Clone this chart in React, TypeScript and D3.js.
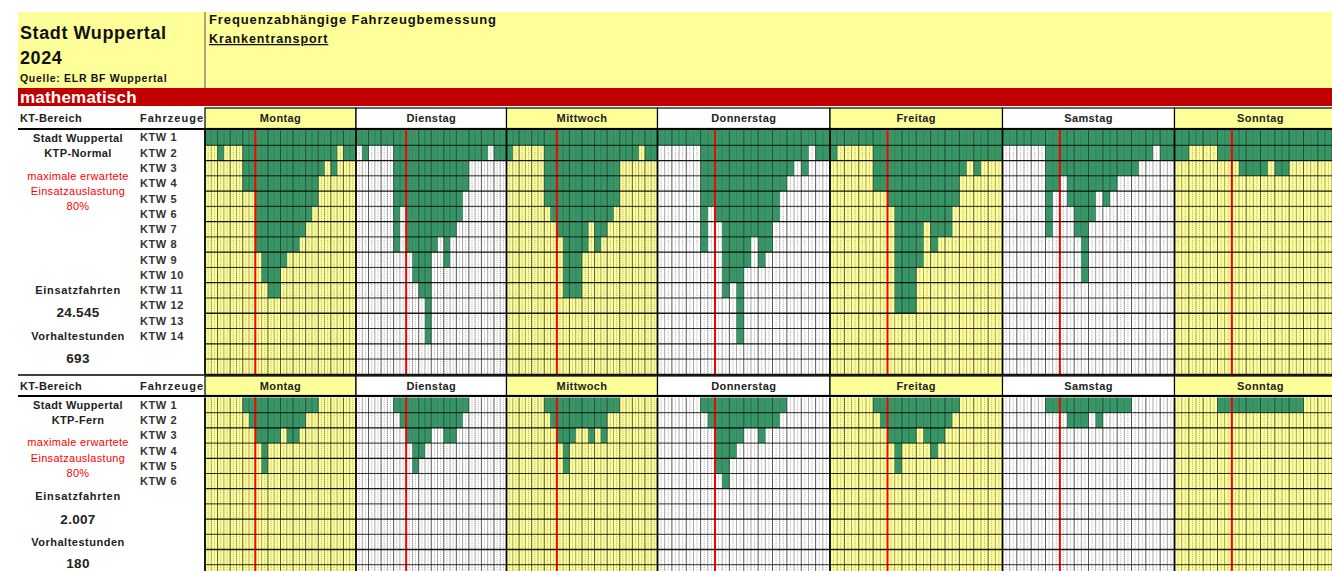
import React from 'react';
import * as d3 from 'd3';

// ---------- data ----------
const days = ['Montag', 'Dienstag', 'Mittwoch', 'Donnerstag', 'Freitag', 'Samstag', 'Sonntag'];
const normalVehicles = ['KTW 1','KTW 2','KTW 3','KTW 4','KTW 5','KTW 6','KTW 7','KTW 8','KTW 9','KTW 10','KTW 11','KTW 12','KTW 13','KTW 14'];
const fernVehicles = ['KTW 1','KTW 2','KTW 3','KTW 4','KTW 5','KTW 6'];

// vehicles needed per hour (0..23), KTP-Normal
const normalMontag     = [1,1,2,1,1,1,4,4,8,10,11,11,9,8,8,7,6,5,3,2,3,1,2,2];
const normalDienstag   = [1,2,1,1,1,1,8,5,8,10,11,14,8,7,9,7,6,4,2,2,2,1,2,2];
const normalMittwoch   = [2,1,1,1,1,1,5,6,7,11,11,11,8,6,8,7,6,5,2,2,2,1,2,2];
const normalDonnerstag = [1,1,1,1,1,1,8,5,6,11,10,14,9,7,9,8,6,4,3,2,3,1,2,2];
const normalFreitag    = [2,1,1,1,1,1,4,4,5,12,12,12,9,6,8,7,7,5,3,2,3,2,2,2];
const normalSamstag    = [1,1,1,1,1,1,7,4,3,5,7,10,6,4,5,4,3,3,3,2,2,1,2,2];
const normalSonntag    = [2,2,1,1,1,1,2,2,2,3,3,3,3,2,3,3,2,2,2,2,2,2,2,2];

// vehicles needed per hour (0..23), KTP-Fern
const fernMontag     = [0,0,0,0,0,0,1,2,3,5,3,3,2,3,3,2,1,1,0,0,0,0,0,0];
const fernDienstag   = [0,0,0,0,0,0,1,2,3,5,4,3,2,2,3,3,2,1,0,0,0,0,0,0];
const fernMittwoch   = [0,0,0,0,0,0,1,2,3,5,3,2,2,3,2,3,1,1,0,0,0,0,0,0];
const fernDonnerstag = [0,0,0,0,0,0,1,2,5,6,4,3,2,2,3,2,2,1,0,0,0,0,0,0];
const fernFreitag    = [0,0,0,0,0,0,1,2,3,5,3,3,2,3,4,3,2,1,0,0,0,0,0,0];
const fernSamstag    = [0,0,0,0,0,0,1,1,1,2,2,2,1,2,1,1,1,1,0,0,0,0,0,0];
const fernSonntag    = [0,0,0,0,0,0,1,1,1,1,1,1,1,1,1,1,1,1,0,0,0,0,0,0];

const normalData = [normalMontag, normalDienstag, normalMittwoch, normalDonnerstag, normalFreitag, normalSamstag, normalSonntag];
const fernData = [fernMontag, fernDienstag, fernMittwoch, fernDonnerstag, fernFreitag, fernSamstag, fernSonntag];

const shiftMarkHour = 8;

// ---------- layout ----------
const W = 1332, H = 571;
const dayEdges = [205, 356, 506.5, 657.5, 830, 1002.5, 1174.5, 1346.5];
const YELLOW = '#ffff99';
const GREEN = '#339966';
const FONT = '"Liberation Sans", Arial, sans-serif';

const sections = [
  { headerTop: 108, headerBottom: 128.5, gridTop: 130, rowH: 15.27, rows: 16, data: normalData, vehicles: normalVehicles,
    name: 'KTP-Normal', fahrten: '24.545', stunden: '693',
    labelY: { a: 138, b: 153, r1: 176, r2: 191, r3: 206, f: 290, fv: 312, s: 336, sv: 358 } },
  { headerTop: 376, headerBottom: 395.5, gridTop: 397.5, rowH: 15.2, rows: 12, data: fernData, vehicles: fernVehicles,
    name: 'KTP-Fern', fahrten: '2.007', stunden: '180',
    labelY: { a: 405, b: 420, r1: 442, r2: 458, r3: 473, f: 496, fv: 519, s: 542, sv: 563 } },
];

function Section({ s }: { s: any }) {
  const yScale = d3.scaleLinear().domain([0, s.rows]).range([s.gridTop, s.gridTop + s.rows * s.rowH]);
  const gridBottom = yScale(s.rows);
  const leftX = 78;
  const txt = (y: number, t: string, opts: any = {}) => (
    <text x={opts.x ?? leftX} y={y} dy="0.35em" textAnchor={opts.anchor ?? 'middle'} fontFamily={FONT}
      fontSize={opts.size ?? 11} fontWeight={opts.weight ?? 'bold'} fill={opts.fill ?? '#222'}
      letterSpacing={opts.ls ?? 0.4}>{t}</text>
  );
  return (
    <g>
      {/* header row */}
      {txt((s.headerTop + s.headerBottom) / 2, 'KT-Bereich', { x: 20, anchor: 'start' })}
      {txt((s.headerTop + s.headerBottom) / 2, 'Fahrzeuge', { x: 140, anchor: 'start', ls: 1 })}
      {days.map((d, i) => {
        const x0 = dayEdges[i], x1 = dayEdges[i + 1];
        return (
          <g key={d}>
            <rect x={x0} y={s.headerTop} width={x1 - x0} height={s.headerBottom - s.headerTop}
              fill={i % 2 === 0 ? YELLOW : '#ffffff'} stroke="#000" strokeWidth={1.2} />
            <text x={(x0 + x1) / 2} y={(s.headerTop + s.headerBottom) / 2} dy="0.35em" textAnchor="middle"
              fontFamily={FONT} fontSize={11} fontWeight="bold" fill="#222" letterSpacing={0.4}>{d}</text>
          </g>
        );
      })}
      <line x1={18} x2={W} y1={s.headerBottom + 0.5} y2={s.headerBottom + 0.5} stroke="#000" strokeWidth={2} />

      {/* day grids */}
      {days.map((d, i) => {
        const x = d3.scaleLinear().domain([0, 24]).range([dayEdges[i], dayEdges[i + 1]]);
        const counts: number[] = s.data[i];
        return (
          <g key={d}>
            <rect x={x(0)} y={s.gridTop} width={x(24) - x(0)} height={gridBottom - s.gridTop}
              fill={i % 2 === 0 ? YELLOW : '#ffffff'} />
            {counts.map((c, h) => c > 0 && (
              <rect key={h} x={x(h)} y={yScale(0)} width={x(h + 1) - x(h)} height={yScale(c) - yScale(0)} fill={GREEN} />
            ))}
            {d3.range(24).map((h) => (
              <line key={'q' + h} x1={x(h + 0.5)} x2={x(h + 0.5)} y1={s.gridTop} y2={gridBottom}
                stroke="#666" strokeWidth={0.8} strokeDasharray="1,1.2" opacity={0.7} />
            ))}
            {d3.range(1, 24).map((h) => (
              <line key={'h' + h} x1={x(h)} x2={x(h)} y1={s.gridTop} y2={gridBottom}
                stroke="#222" strokeWidth={h % 2 === 0 ? 1 : 0.8} opacity={h % 2 === 0 ? 0.75 : 0.5} />
            ))}
            <line x1={x(shiftMarkHour)} x2={x(shiftMarkHour)} y1={s.gridTop} y2={gridBottom} stroke="#ff0000" strokeWidth={2} />
            <line x1={x(0)} x2={x(0)} y1={s.gridTop} y2={gridBottom} stroke="#000" strokeWidth={1.8} />
          </g>
        );
      })}
      {d3.range(1, s.rows + 1).map((r) => (
        <line key={r} x1={dayEdges[0]} x2={W} y1={yScale(r)} y2={yScale(r)} stroke="#000" strokeWidth={r % 2 === 0 ? 1.3 : 0.9} opacity={0.9} />
      ))}

      {/* left labels */}
      {txt(s.labelY.a, 'Stadt Wuppertal')}
      {txt(s.labelY.b, s.name)}
      {txt(s.labelY.r1, 'maximale erwartete', { weight: 'normal', fill: '#ff0000', ls: 0.3 })}
      {txt(s.labelY.r2, 'Einsatzauslastung', { weight: 'normal', fill: '#ff0000', ls: 0.3 })}
      {txt(s.labelY.r3, '80%', { weight: 'normal', fill: '#ff0000', ls: 0.3 })}
      {txt(s.labelY.f, 'Einsatzfahrten', { ls: 0.7 })}
      {txt(s.labelY.fv, s.fahrten, { size: 13.5, ls: 0.3 })}
      {txt(s.labelY.s, 'Vorhaltestunden', { ls: 0.5 })}
      {txt(s.labelY.sv, s.stunden, { size: 13.5, ls: 0.3 })}
      {s.vehicles.map((v: string, i: number) => (
        <text key={v} x={140} y={(yScale(i) + yScale(i + 1)) / 2} dy="0.35em" fontFamily={FONT} fontSize={11}
          fontWeight="bold" fill="#333" letterSpacing={0.6}>{v}</text>
      ))}
    </g>
  );
}

export default function App() {
  return (
    <svg width={W} height={H} style={{ position: 'absolute', left: 0, top: 0, background: '#fff' }}>
      {/* title block */}
      <rect x={18} y={12} width={W - 18} height={76} fill={YELLOW} />
      <line x1={205} x2={205} y1={12} y2={88} stroke="#555" strokeWidth={1} />
      <text x={20} y={39} fontFamily={FONT} fontSize={18} fontWeight="bold" fill="#111" letterSpacing={0.6}>Stadt Wuppertal</text>
      <text x={20} y={64} fontFamily={FONT} fontSize={18} fontWeight="bold" fill="#111" letterSpacing={0.6}>2024</text>
      <text x={20} y={82} fontFamily={FONT} fontSize={10.5} fontWeight="bold" fill="#111" letterSpacing={0.7}>Quelle: ELR BF Wuppertal</text>
      <text x={209} y={24} fontFamily={FONT} fontSize={13} fontWeight="bold" fill="#111" letterSpacing={0.9}>Frequenzabhängige Fahrzeugbemessung</text>
      <text x={209} y={43} fontFamily={FONT} fontSize={12.5} fontWeight="bold" fill="#111" textDecoration="underline" letterSpacing={0.9}>Krankentransport</text>
      <rect x={18} y={88} width={W - 18} height={18} fill="#c00000" />
      <text x={20} y={103} fontFamily={FONT} fontSize={17} fontWeight="bold" fill="#fff" letterSpacing={0.2}>mathematisch</text>
      <line x1={18} x2={W} y1={375} y2={375} stroke="#000" strokeWidth={1.5} />
      {sections.map((s, i) => <Section key={i} s={s} />)}
    </svg>
  );
}
